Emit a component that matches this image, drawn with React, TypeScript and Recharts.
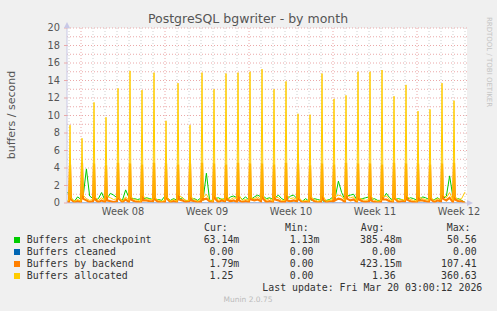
import React from 'react';
import {
  ComposedChart,
  Line,
  XAxis,
  YAxis,
  ReferenceLine,
  ReferenceArea,
  ReferenceDot,
} from 'recharts';

// Days are counted from the first midnight in view; the daily spike lands ~2h after midnight.
const dayLines = Array.from({ length: 34 }, (_, i) => i);
const weekStarts = [1, 8, 15, 22, 29];
const weekMids = [4.5, 11.5, 18.5, 25.5, 32.5];
const weekLabels = ['Week 08', 'Week 09', 'Week 10', 'Week 11', 'Week 12'];
const yTicks = [0, 2, 4, 6, 8, 10, 12, 14, 16, 18, 20];
const yGrid = Array.from({ length: 20 }, (_, i) => i + 1);

// daily spike heights
const allocatedPeak = [8.9, 7.4, 11.5, 9.8, 13.1, 15.1, 12.9, 14.9, 9.4, 13.7, 8.9, 14.9, 13.0, 14.8, 14.9, 15.0, 15.3, 13.0, 13.9, 10.2, 10.1, 14.8, 11.9, 12.3, 15.0, 15.0, 15.2, 12.2, 13.5, 10.5, 10.7, 13.7, 11.7];
const backendPeak = [4.4, 4.6, 4.5, 4.3, 4.6, 4.5, 4.4, 4.6, 4.5, 4.4, 4.5, 4.6, 4.5, 4.4, 4.6, 4.5, 4.5, 4.4, 4.6, 4.5, 4.3, 4.5, 4.4, 4.6, 4.5, 4.5, 4.4, 4.6, 4.5, 4.5, 4.4, 4.5, 4.6];
const checkpointPeak = [1.2, 1.0, 1.5, 1.3, 1.6, 1.4, 1.2, 1.5, 1.3, 1.6, 1.1, 1.4, 1.5, 1.3, 1.6, 1.2, 1.4, 1.5, 1.3, 1.6, 1.2, 1.4, 1.3, 1.5, 1.6, 1.2, 1.5, 1.3, 1.4, 1.6, 1.2, 1.5, 1.3];

// per day: [before spike, after spike, mid-day, evening]
const checkpointBase = [
  [1.1, 0.6, 0.2, 0.7], [0.4, 0.6, 3.9, 0.8], [0.5, 0.3, 0.5, 1.2], [0.3, 0.5, 1.1, 0.9],
  [0.6, 0.4, 0.3, 1.5], [0.6, 0.5, 0.5, 0.4], [0.5, 0.4, 0.6, 0.5], [0.4, 0.3, 0.4, 0.3],
  [0.8, 0.6, 0.3, 0.5], [0.3, 0.4, 0.6, 0.3], [0.2, 0.4, 0.5, 0.3], [0.6, 0.3, 3.4, 0.3],
  [0.3, 0.5, 0.6, 0.4], [0.5, 0.3, 0.7, 0.8], [0.6, 0.8, 0.4, 0.7], [0.3, 0.4, 0.7, 0.9],
  [0.7, 0.8, 0.5, 0.6], [0.4, 0.6, 0.9, 0.5], [0.3, 0.4, 0.8, 0.9], [0.5, 0.3, 0.2, 0.5],
  [0.2, 0.3, 0.5, 0.4], [0.3, 0.2, 0.3, 0.4], [0.7, 0.5, 2.5, 1.2], [0.4, 0.8, 0.9, 1.0],
  [0.3, 0.4, 0.5, 0.6], [0.7, 0.4, 0.5, 0.3], [0.3, 0.5, 1.1, 0.6], [0.3, 0.4, 0.5, 0.4],
  [0.2, 0.4, 0.6, 0.5], [0.3, 0.2, 0.7, 0.6], [0.4, 0.3, 0.4, 0.6], [0.3, 0.5, 0.8, 3.1],
  [0.6, 0.4, 0.5, 0.3],
];
const allocatedBase = [
  [0.3, 0.6, 0.2, 0.4], [0.2, 0.9, 0.5, 0.3], [0.4, 0.7, 0.3, 0.6], [0.3, 0.8, 0.6, 0.4],
  [0.5, 0.6, 0.2, 0.7], [0.3, 0.7, 0.4, 0.3], [0.2, 0.8, 0.5, 0.4], [0.4, 0.6, 0.3, 0.2],
  [0.3, 0.7, 0.2, 0.4], [0.2, 0.9, 0.6, 0.3], [0.3, 0.7, 0.4, 0.2], [0.4, 0.6, 1.0, 0.3],
  [0.2, 0.8, 0.3, 0.5], [0.3, 0.7, 0.4, 0.6], [0.5, 0.9, 0.3, 0.4], [0.3, 0.6, 0.5, 0.7],
  [0.4, 0.8, 0.3, 0.5], [0.2, 0.7, 0.6, 0.3], [0.3, 0.9, 0.5, 0.6], [0.4, 0.6, 0.2, 0.3],
  [0.2, 0.7, 0.4, 0.2], [0.3, 0.8, 0.2, 0.3], [0.4, 0.7, 0.9, 0.8], [0.3, 0.9, 0.6, 0.7],
  [0.2, 0.6, 0.4, 0.3], [0.4, 0.8, 0.3, 0.2], [0.3, 0.7, 0.8, 0.4], [0.2, 0.6, 0.3, 0.4],
  [0.3, 0.8, 0.4, 0.3], [0.2, 0.7, 0.5, 0.4], [0.3, 0.6, 0.3, 0.5], [0.4, 0.9, 0.6, 1.2],
  [0.3, 0.7, 0.4, 0.5],
];
const backendBase = [
  [0.1, 0.4, 0.1, 0.2], [0.1, 0.5, 0.3, 0.1], [0.2, 0.4, 0.1, 0.3], [0.1, 0.3, 0.2, 0.1],
  [0.2, 0.5, 0.1, 0.4], [0.1, 0.4, 0.2, 0.1], [0.1, 0.3, 0.3, 0.2], [0.2, 0.4, 0.1, 0.1],
  [0.1, 0.5, 0.1, 0.2], [0.1, 0.4, 0.3, 0.1], [0.2, 0.3, 0.2, 0.1], [0.1, 0.4, 0.5, 0.2],
  [0.1, 0.5, 0.1, 0.3], [0.2, 0.4, 0.2, 0.3], [0.1, 0.3, 0.1, 0.2], [0.1, 0.4, 0.3, 0.4],
  [0.2, 0.5, 0.1, 0.2], [0.1, 0.4, 0.3, 0.1], [0.1, 0.3, 0.2, 0.3], [0.2, 0.4, 0.1, 0.1],
  [0.1, 0.5, 0.2, 0.1], [0.1, 0.4, 0.1, 0.2], [0.2, 0.3, 0.5, 0.4], [0.1, 0.5, 0.3, 0.4],
  [0.1, 0.4, 0.2, 0.1], [0.2, 0.3, 0.1, 0.1], [0.1, 0.4, 0.4, 0.2], [0.1, 0.5, 0.1, 0.2],
  [0.2, 0.4, 0.2, 0.1], [0.1, 0.3, 0.3, 0.2], [0.1, 0.4, 0.1, 0.3], [0.2, 0.5, 0.3, 0.6],
  [0.1, 0.4, 0.2, 0.2],
];
const startValues = { checkpoint: 1.2, backend: 0.1, allocated: 0.3 };
const currentValues = { checkpoint: 0.063, backend: 0.002, allocated: 1.25 };

// sample offsets within a day: before spike, spike, after spike, mid-day, evening
const slotOffsets = [0, 1 / 12, 1 / 6, 0.45, 0.72];
const xMin = -1 / 6;
const xMax = 33 + 1 / 6;

const rows: any[] = [{ t: xMin, cleaned: 0, ...startValues }];
allocatedPeak.forEach((peak, n) => {
  const cp = checkpointBase[n];
  const al = allocatedBase[n];
  const be = backendBase[n];
  const cpVals = [cp[0], checkpointPeak[n], cp[1], cp[2], cp[3]];
  const alVals = [al[0], peak, al[1], al[2], al[3]];
  const beVals = [be[0], backendPeak[n], be[1], be[2], be[3]];
  slotOffsets.forEach((off, k) => {
    rows.push({ t: n + off, checkpoint: cpVals[k], cleaned: 0, backend: beVals[k], allocated: alVals[k] });
  });
});
rows.push({ t: 33, cleaned: 0, ...currentValues });

const legendRows = [
  { name: 'Buffers at checkpoint', color: '#00cc00', cur: '63.14m', min: '1.13m', avg: '385.48m', max: '50.56 ' },
  { name: 'Buffers cleaned', color: '#0066b3', cur: '0.00 ', min: '0.00 ', avg: '0.00 ', max: '0.00 ' },
  { name: 'Buffers by backend', color: '#ff8000', cur: '1.79m', min: '0.00 ', avg: '423.15m', max: '107.41 ' },
  { name: 'Buffers allocated', color: '#ffcc00', cur: '1.25 ', min: '0.00 ', avg: '1.36 ', max: '360.63 ' },
];

const mono = '"DejaVu Sans Mono", monospace';
const sans = '"DejaVu Sans", sans-serif';
const axisColor = '#c8c8e6';
const textColor = '#555';

const abs = (left: number, top: number, extra: React.CSSProperties = {}): React.CSSProperties => ({
  position: 'absolute',
  left,
  top,
  whiteSpace: 'pre',
  ...extra,
});

function RightArrow(props: any) {
  const { cx, cy } = props;
  return <path d={`M${cx} ${cy - 3}L${cx + 6} ${cy}L${cx} ${cy + 3}Z`} fill={axisColor} />;
}
function UpArrow(props: any) {
  const { cx, cy } = props;
  return <path d={`M${cx - 3} ${cy}L${cx} ${cy - 6}L${cx + 3} ${cy}Z`} fill={axisColor} />;
}

export default function App() {
  const rowCenters = [239.7, 251.7, 263.7, 275.7];
  const lh = 12;
  return (
    <div style={{ position: 'relative', width: 497, height: 311, background: '#f0f0f0', overflow: 'hidden' }}>
      <style>{`body{margin:0}`}</style>
      <ComposedChart
        width={497}
        height={311}
        data={rows}
        margin={{ top: 28, right: 30, bottom: 88, left: 27 }}
        style={{ position: 'absolute', left: 0, top: 0 }}
      >
        <ReferenceArea x1={xMin} x2={xMax} y1={0} y2={20} fill="#ffffff" fillOpacity={1} stroke="none" ifOverflow="visible" />
        {dayLines
          .filter((d) => !weekStarts.includes(d))
          .map((d) => (
            <ReferenceLine key={'d' + d} x={d} stroke="#cfcfcf" strokeDasharray="1 2" />
          ))}
        {yGrid.map((v) => (
          <ReferenceLine key={'h' + v} y={v} stroke="#eba8a8" strokeDasharray="1 2" />
        ))}
        {weekStarts.map((d) => (
          <ReferenceLine key={'w' + d} x={d} stroke="#eba8a8" strokeDasharray="1 2" />
        ))}
        <XAxis
          dataKey="t"
          type="number"
          domain={[xMin, xMax]}
          ticks={weekMids}
          tickFormatter={(v: number) => weekLabels[weekMids.indexOf(v)] ?? ''}
          tickLine={false}
          tickSize={0}
          tickMargin={5}
          height={20}
          axisLine={{ stroke: axisColor }}
          tick={{ fill: textColor, fontSize: 9.8, fontFamily: sans }}
          allowDataOverflow
          interval={0}
        />
        <YAxis
          type="number"
          domain={[0, 20]}
          ticks={yTicks}
          width={40}
          tickSize={3}
          tickMargin={4}
          tickLine={{ stroke: '#eba8a8' }}
          axisLine={{ stroke: axisColor }}
          tick={{ fill: textColor, fontSize: 9.8, fontFamily: sans }}
          allowDataOverflow
          interval={0}
        />
        <Line dataKey="checkpoint" type="linear" stroke="#00cc00" strokeWidth={1} dot={false} isAnimationActive={false} />
        <Line dataKey="cleaned" type="linear" stroke="#0066b3" strokeWidth={1} dot={false} isAnimationActive={false} />
        <Line dataKey="backend" type="linear" stroke="#ff8000" strokeWidth={2.2} dot={false} isAnimationActive={false} />
        <Line dataKey="allocated" type="linear" stroke="#ffcc00" strokeWidth={1} dot={false} isAnimationActive={false} />
        <ReferenceDot x={xMax} y={0} r={0} ifOverflow="visible" shape={RightArrow} />
        <ReferenceDot x={xMin} y={20} r={0} ifOverflow="visible" shape={UpArrow} />
      </ComposedChart>

      <div style={abs(248, 12, { transform: 'translateX(-50%)', fontFamily: sans, fontSize: 12.5, lineHeight: '14px', color: textColor })}>
        PostgreSQL bgwriter - by month
      </div>
      <div
        style={abs(10.5, 115, {
          transform: 'translate(-50%, -50%) rotate(-90deg)',
          fontFamily: sans,
          fontSize: 11,
          lineHeight: '13px',
          color: textColor,
        })}
      >
        buffers / second
      </div>
      <div
        style={abs(488.5, 61.5, {
          transform: 'translate(-50%, -50%) rotate(90deg)',
          fontFamily: sans,
          fontSize: 7,
          lineHeight: '8px',
          color: '#c4c4c4',
        })}
      >
        RRDTOOL / TOBI OETIKER
      </div>

      <div style={{ fontFamily: mono, fontSize: 9.9, lineHeight: lh + 'px', color: '#333' }}>
        <div style={abs(204, 227.7 - lh / 2)}>Cur:</div>
        <div style={abs(285, 227.7 - lh / 2)}>Min:</div>
        <div style={abs(360.7, 227.7 - lh / 2)}>Avg:</div>
        <div style={abs(446.7, 227.7 - lh / 2)}>Max:</div>
        {legendRows.map((r, i) => {
          const top = rowCenters[i] - lh / 2;
          return (
            <React.Fragment key={r.name}>
              <div style={abs(14, rowCenters[i] - 3, { width: 6, height: 6, background: r.color })} />
              <div style={abs(26.7, top)}>{r.name}</div>
              <div style={abs(0, top, { width: 239.3, textAlign: 'right' })}>{r.cur}</div>
              <div style={abs(0, top, { width: 319.5, textAlign: 'right' })}>{r.min}</div>
              <div style={abs(0, top, { width: 401.7, textAlign: 'right' })}>{r.avg}</div>
              <div style={abs(0, top, { width: 482.7, textAlign: 'right' })}>{r.max}</div>
            </React.Fragment>
          );
        })}
        <div style={abs(0, 287.7 - lh / 2, { width: 482.3, textAlign: 'right' })}>
          Last update: Fri Mar 20 03:00:12 2026
        </div>
      </div>
      <div style={abs(248, 300.3 - 5, { transform: 'translateX(-50%)', fontFamily: sans, fontSize: 7.5, lineHeight: '10px', color: '#bbb' })}>
        Munin 2.0.75
      </div>
    </div>
  );
}
